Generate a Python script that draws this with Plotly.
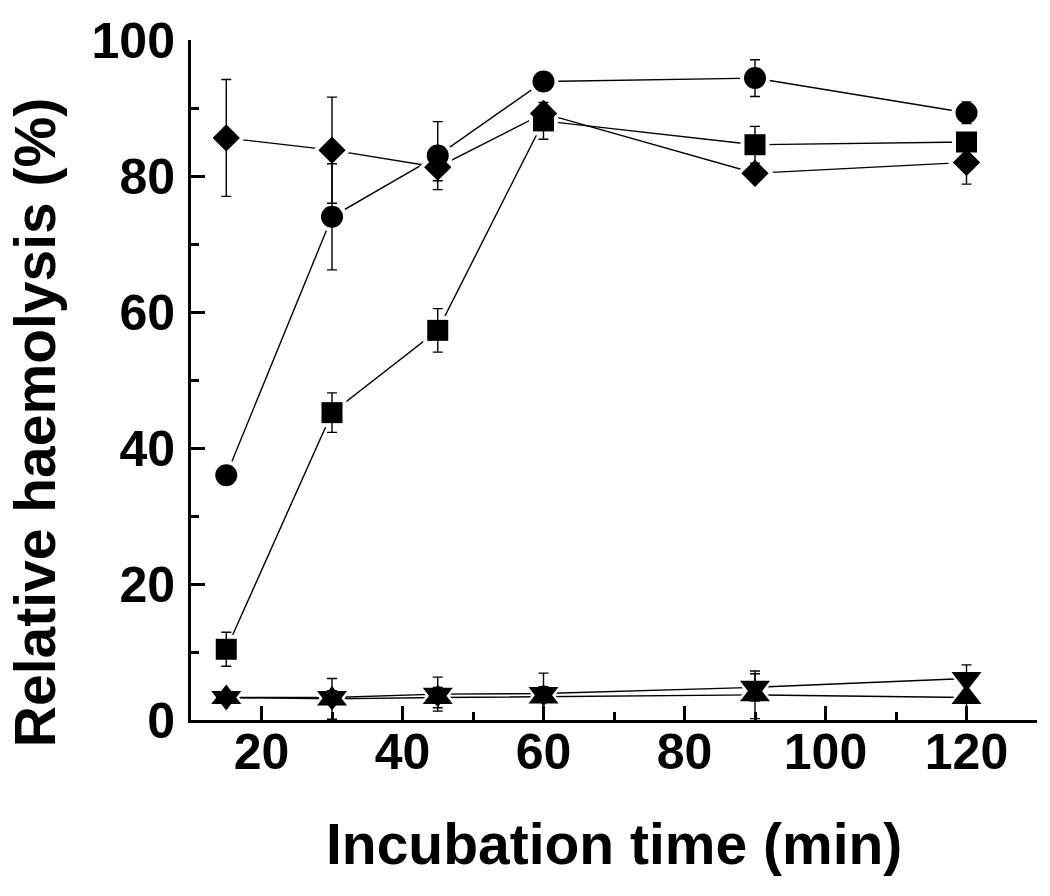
import plotly.graph_objects as go

time_min = [15, 30, 45, 60, 90, 120]

circle_y = [36.0, 74.0, 83.0, 93.9, 94.4, 89.3]
circle_err = [0.5, 7.8, 5.0, 0.8, 2.7, 1.6]

square_y = [10.4, 45.2, 57.3, 88.1, 84.6, 85.0]
square_err = [2.5, 2.9, 3.2, 2.7, 2.7, 0.8]

diamond_y = [85.6, 83.8, 81.3, 89.2, 80.4, 82.0]
diamond_err = [8.6, 7.8, 2.0, 0.8, 0.8, 3.2]

tri_down_y = [3.3, 3.3, 3.8, 3.9, 4.8, 6.1]
tri_down_err = [0.5, 1.0, 2.5, 1.0, 2.0, 2.0]

tri_up_y = [3.3, 3.1, 3.3, 3.4, 3.7, 3.3]
tri_up_err = [0.5, 3.0, 1.5, 3.5, 3.5, 3.5]

x_ticks = [20, 40, 60, 80, 100, 120]
y_ticks = [0, 20, 40, 60, 80, 100]

series = [
    ("circle", circle_y, circle_err, 22),
    ("square", square_y, square_err, 21),
    ("diamond", diamond_y, diamond_err, 21),
    ("triangle-down", tri_down_y, tri_down_err, 26),
    ("triangle-up", tri_up_y, tri_up_err, 26),
]

fig = go.Figure()

# connecting lines
for sym, ys, errs, sz in series:
    fig.add_trace(go.Scatter(x=time_min, y=ys, mode="lines",
                             line=dict(color="black", width=1.4),
                             hoverinfo="skip", showlegend=False))
# white halos (gaps between lines and symbols)
for sym, ys, errs, sz in series:
    fig.add_trace(go.Scatter(x=time_min, y=ys, mode="markers",
                             marker=dict(symbol=sym, size=sz + 8, color="white",
                                         line=dict(width=0)),
                             hoverinfo="skip", showlegend=False))
# symbols with error bars
for sym, ys, errs, sz in series:
    fig.add_trace(go.Scatter(x=time_min, y=ys, mode="markers",
                             marker=dict(symbol=sym, size=sz, color="black",
                                         line=dict(width=0)),
                             error_y=dict(type="data", array=errs, visible=True,
                                          color="black", thickness=1.4, width=5),
                             showlegend=False))

font_family = "Liberation Sans, Arial, sans-serif"

fig.update_layout(
    width=1050, height=896,
    margin=dict(l=191, r=13, t=40, b=176),
    paper_bgcolor="white", plot_bgcolor="white",
    font=dict(family=font_family, color="black"),
    xaxis=dict(range=[10, 130], tickvals=x_ticks, ticktext=[str(v) for v in x_ticks],
               ticks="inside", ticklen=14, tickwidth=2.5, tickcolor="black",
               minor=dict(dtick=10, tick0=0, ticks="inside", ticklen=8,
                          tickwidth=2.5, tickcolor="black", showgrid=False),
               showline=True, linewidth=3, linecolor="black", mirror=False,
               showgrid=False, zeroline=False,
               tickfont=dict(size=50, weight="bold", family=font_family),
               ticklabelstandoff=-14),
    yaxis=dict(range=[0, 100], tickvals=y_ticks, ticktext=[str(v) for v in y_ticks],
               ticks="inside", ticklen=14, tickwidth=2.5, tickcolor="black",
               minor=dict(dtick=10, tick0=0, ticks="inside", ticklen=8,
                          tickwidth=2.5, tickcolor="black", showgrid=False),
               showline=True, linewidth=3, linecolor="black", mirror=False,
               showgrid=False, zeroline=False,
               tickfont=dict(size=50, weight="bold", family=font_family),
               ticklabelstandoff=3),
    annotations=[
        dict(text="Incubation time (min)", xref="paper", yref="paper",
             x=0.5, y=-0.182, xanchor="center", yanchor="middle", showarrow=False,
             font=dict(size=57, weight="bold", family=font_family, color="black")),
        dict(text="Relative haemolysis (%)", xref="paper", yref="paper",
             x=-0.184, y=0.437, xanchor="center", yanchor="middle", showarrow=False,
             textangle=-90,
             font=dict(size=57, weight="bold", family=font_family, color="black")),
    ],
)

fig.write_html("out.html", config={"displayModeBar": False},
               post_script="document.body.style.margin='0';")
